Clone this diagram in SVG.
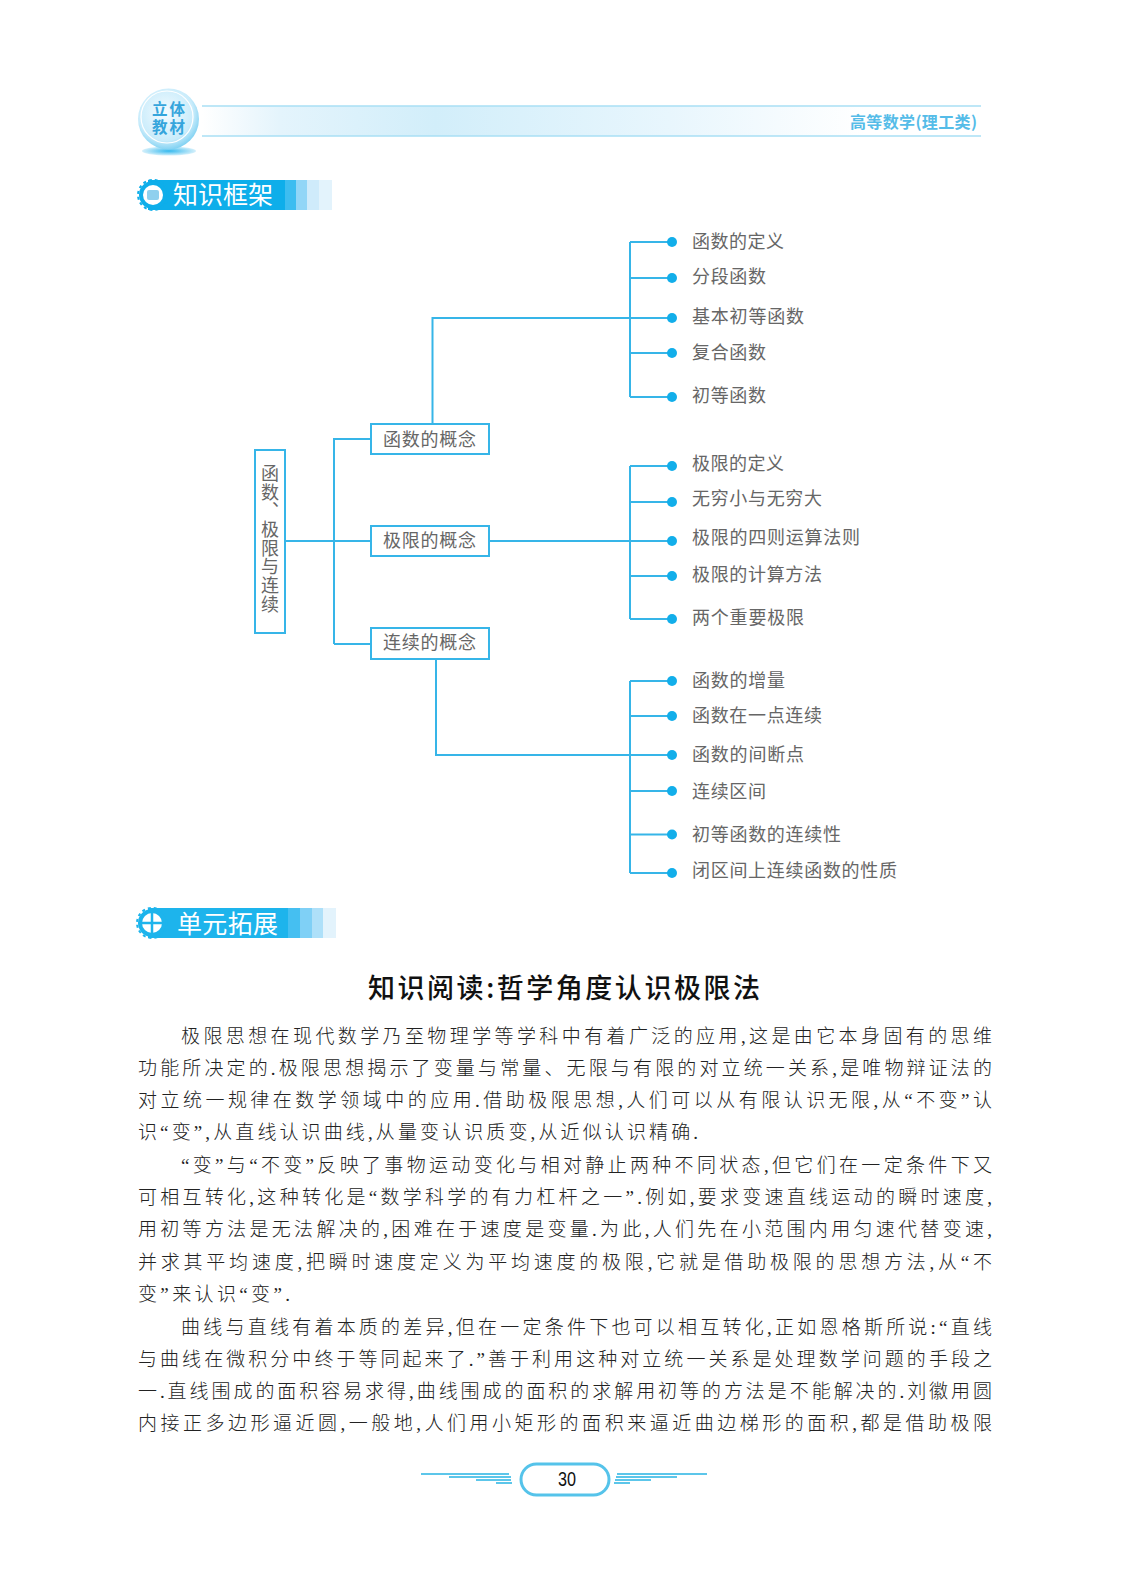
<svg xmlns="http://www.w3.org/2000/svg" width="1127" height="1576" viewBox="0 0 1127 1576">
<style>
text{font-family:"Noto Sans CJK SC","Noto Sans",sans-serif}
.box{fill:#fff;stroke:#36b5e8;stroke-width:2}
.ln{fill:none;stroke:#36b5e8;stroke-width:2}
.dot{fill:#12aeea}
.lab{font-size:18px;fill:#666;font-weight:400}
.body{font-size:19px;fill:#222;font-weight:300;font-family:"Liberation Serif","Noto Sans CJK SC",serif}
.sec{font-size:25px;fill:#fff;font-weight:400}
.pg{stroke:#5cc6ea;stroke-width:2;fill:none}
</style>
<defs>
<linearGradient id="band" x1="0" x2="1" y1="0" y2="0"><stop offset="0" stop-color="#fff"/><stop offset=".1" stop-color="#e4f4fc"/><stop offset=".3" stop-color="#d2eefa"/><stop offset=".6" stop-color="#e8f6fd"/><stop offset=".85" stop-color="#fff"/></linearGradient>
<radialGradient id="disc" cx=".45" cy=".4" r=".65"><stop offset="0" stop-color="#f4fbff"/><stop offset=".7" stop-color="#c9ecfb"/><stop offset="1" stop-color="#6ccaf0"/></radialGradient>
<radialGradient id="sh"><stop offset="0" stop-color="#35b9ee"/><stop offset="1" stop-color="#d5f0fb"/></radialGradient>
</defs>
<rect width="1127" height="1576" fill="#fff"/>
<g id="header">
<rect x="202" y="106" width="779" height="30" fill="url(#band)"/>
<path d="M202 106H981M202 136H981" stroke="#a9e0f5" stroke-width="1.5" fill="none"/>
<ellipse cx="169" cy="151" rx="27" ry="4.5" fill="url(#sh)"/>
<circle cx="168.5" cy="119" r="30.5" fill="url(#disc)"/>
<circle cx="167" cy="117" r="26" fill="none" stroke="#fff" stroke-width="1.2"/>
<text x="152" y="115" font-size="15.5" font-weight="700" fill="#35a5dc" textLength="33">立体</text>
<text x="152" y="133" font-size="15.5" font-weight="700" fill="#35a5dc" textLength="33">教材</text>
<text x="850" y="128" font-size="16" font-weight="700" fill="#55bce8" textLength="127">高等数学(理工类)</text>
</g>
<g id="section-1">
<rect x="148" y="180" width="137" height="30" fill="#0eaeea"/>
<rect x="285" y="180" width="11" height="30" fill="#3dbdf0"/>
<rect x="296" y="180" width="11" height="30" fill="#92d6f7"/>
<rect x="307" y="180" width="12" height="30" fill="#cfebfb"/>
<rect x="319" y="180" width="13" height="30" fill="#e3f3fc"/>
<circle cx="153" cy="195" r="14" fill="#0eaeea"/>
<circle cx="153" cy="195" r="15" fill="none" stroke="#0eaeea" stroke-width="2" stroke-dasharray="3 3"/>
<circle cx="153" cy="195" r="10" fill="#fff"/>
<rect x="147" y="190" width="12" height="10" rx="2" fill="#8fd0ee"/>
<text class="sec" x="173" y="204" textLength="100">知识框架</text>
</g>
<g id="connectors">
<path class="ln" d="M285 541H371M334 644V439H371M334 644H371M432.5 424V318H672M630 242V397M630 242H672M630 278H672M630 353H672M630 397H672"/>
<path class="ln" d="M489 541H672M630 466V619M630 466H672M630 502H672M630 576H672M630 619H672"/>
<path class="ln" d="M436 659V755H672M630 681V873M630 681H672M630 716H672M630 791H672M630 834.5H672M630 873H672"/>
</g>
<g id="root"><rect class="box" x="255" y="450" width="30" height="183"/>
<text class="lab" x="270" y="464" style="writing-mode:vertical-rl;letter-spacing:.7px">函数、极限与连续</text></g>
<g id="n1"><rect class="box" x="371" y="424" width="118" height="30"/><text class="lab" x="383" y="446" textLength="93">函数的概念</text></g>
<g id="n2"><rect class="box" x="371" y="526" width="118" height="30"/><text class="lab" x="383" y="547" textLength="93">极限的概念</text></g>
<g id="n3"><rect class="box" x="371" y="628" width="118" height="31"/><text class="lab" x="383" y="649" textLength="93">连续的概念</text></g>
<g id="l1"><circle class="dot" cx="672" cy="242" r="5"/><text class="lab" x="692" y="248" textLength="92">函数的定义</text></g>
<g id="l2"><circle class="dot" cx="672" cy="278" r="5"/><text class="lab" x="692" y="283" textLength="74">分段函数</text></g>
<g id="l3"><circle class="dot" cx="672" cy="318" r="5"/><text class="lab" x="692" y="323" textLength="112">基本初等函数</text></g>
<g id="l4"><circle class="dot" cx="672" cy="353" r="5"/><text class="lab" x="692" y="359" textLength="74">复合函数</text></g>
<g id="l5"><circle class="dot" cx="672" cy="397" r="5"/><text class="lab" x="692" y="402" textLength="74">初等函数</text></g>
<g id="l6"><circle class="dot" cx="672" cy="466" r="5"/><text class="lab" x="692" y="470" textLength="92">极限的定义</text></g>
<g id="l7"><circle class="dot" cx="672" cy="502" r="5"/><text class="lab" x="692" y="505" textLength="130">无穷小与无穷大</text></g>
<g id="l8"><circle class="dot" cx="672" cy="541" r="5"/><text class="lab" x="692" y="544" textLength="168">极限的四则运算法则</text></g>
<g id="l9"><circle class="dot" cx="672" cy="576" r="5"/><text class="lab" x="692" y="581" textLength="130">极限的计算方法</text></g>
<g id="l10"><circle class="dot" cx="672" cy="619" r="5"/><text class="lab" x="692" y="624" textLength="112">两个重要极限</text></g>
<g id="l11"><circle class="dot" cx="672" cy="681" r="5"/><text class="lab" x="692" y="687" textLength="93">函数的增量</text></g>
<g id="l12"><circle class="dot" cx="672" cy="716" r="5"/><text class="lab" x="692" y="722" textLength="130">函数在一点连续</text></g>
<g id="l13"><circle class="dot" cx="672" cy="755" r="5"/><text class="lab" x="692" y="761" textLength="112">函数的间断点</text></g>
<g id="l14"><circle class="dot" cx="672" cy="791" r="5"/><text class="lab" x="692" y="798" textLength="74">连续区间</text></g>
<g id="l15"><circle class="dot" cx="672" cy="834.5" r="5"/><text class="lab" x="692" y="841" textLength="149">初等函数的连续性</text></g>
<g id="l16"><circle class="dot" cx="672" cy="873" r="5"/><text class="lab" x="692" y="877" textLength="205">闭区间上连续函数的性质</text></g>
<g id="section-2">
<rect x="148" y="908" width="140" height="30" fill="#1db4ec"/>
<rect x="288" y="908" width="12" height="30" fill="#45bff1"/>
<rect x="300" y="908" width="12" height="30" fill="#7fd0f6"/>
<rect x="312" y="908" width="11" height="30" fill="#aee0f9"/>
<rect x="323" y="908" width="13" height="30" fill="#e3f3fc"/>
<circle cx="152" cy="923" r="14" fill="#1db4ec"/>
<circle cx="152" cy="923" r="15" fill="none" stroke="#1db4ec" stroke-width="2" stroke-dasharray="3 3"/>
<circle cx="152" cy="923" r="10" fill="#fff"/>
<path d="M152 913V933M142 923H162" stroke="#1db4ec" stroke-width="2.5"/>
<text class="sec" x="177" y="933" textLength="101">单元拓展</text>
</g>
<g id="article">
<text x="368" y="998" font-size="27" font-weight="500" fill="#111" textLength="392">知识阅读:哲学角度认识极限法</text>
<text class="body" x="181" y="1043" textLength="811">极限思想在现代数学乃至物理学等学科中有着广泛的应用,这是由它本身固有的思维</text>
<text class="body" x="138" y="1075" textLength="854">功能所决定的.极限思想揭示了变量与常量、无限与有限的对立统一关系,是唯物辩证法的</text>
<text class="body" x="138" y="1107" textLength="854">对立统一规律在数学领域中的应用.借助极限思想,人们可以从有限认识无限,从“不变”认</text>
<text class="body" x="138" y="1139" textLength="560">识“变”,从直线认识曲线,从量变认识质变,从近似认识精确.</text>
<text class="body" x="181" y="1172" textLength="811">“变”与“不变”反映了事物运动变化与相对静止两种不同状态,但它们在一定条件下又</text>
<text class="body" x="138" y="1204" textLength="854">可相互转化,这种转化是“数学科学的有力杠杆之一”.例如,要求变速直线运动的瞬时速度,</text>
<text class="body" x="138" y="1236" textLength="854">用初等方法是无法解决的,困难在于速度是变量.为此,人们先在小范围内用匀速代替变速,</text>
<text class="body" x="138" y="1269" textLength="854">并求其平均速度,把瞬时速度定义为平均速度的极限,它就是借助极限的思想方法,从“不</text>
<text class="body" x="138" y="1301" textLength="152">变”来认识“变”.</text>
<text class="body" x="181" y="1334" textLength="811">曲线与直线有着本质的差异,但在一定条件下也可以相互转化,正如恩格斯所说:“直线</text>
<text class="body" x="138" y="1366" textLength="854">与曲线在微积分中终于等同起来了.”善于利用这种对立统一关系是处理数学问题的手段之</text>
<text class="body" x="138" y="1398" textLength="854">一.直线围成的面积容易求得,曲线围成的面积的求解用初等的方法是不能解决的.刘徽用圆</text>
<text class="body" x="138" y="1430" textLength="854">内接正多边形逼近圆,一般地,人们用小矩形的面积来逼近曲边梯形的面积,都是借助极限</text>
</g>
<g id="page-number">
<rect x="521" y="1464" width="88" height="31" rx="15.5" fill="#fff" stroke="#55c3ea" stroke-width="3"/>
<path class="pg" d="M421 1474H509M449 1477H511M476 1480H511M496 1483H512M617 1474H707M616 1477H677M615 1480H651M614 1483H630"/>
<text x="558" y="1486" font-size="20" fill="#111" textLength="18" lengthAdjust="spacingAndGlyphs" style='font-family:"Liberation Sans",sans-serif'>30</text>
</g>
</svg>
